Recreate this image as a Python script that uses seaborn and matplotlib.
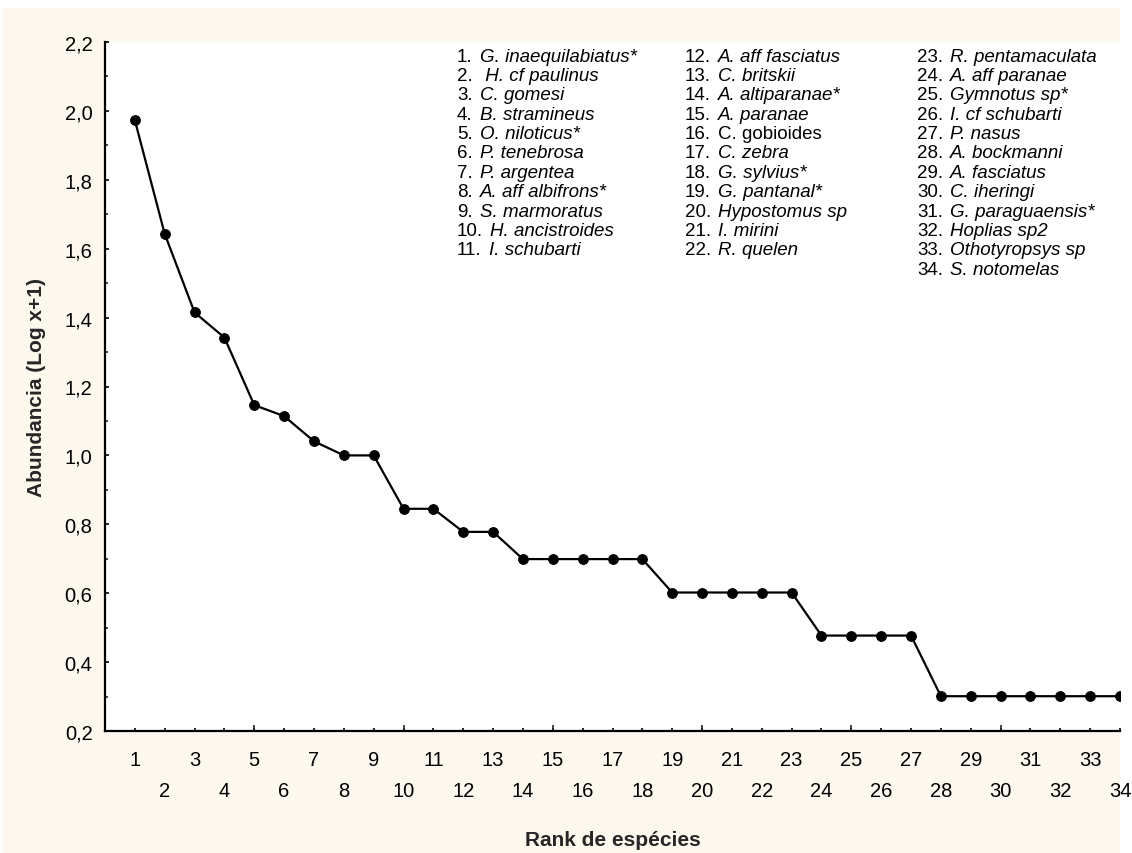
import matplotlib
matplotlib.use("Agg")
import matplotlib.pyplot as plt
from matplotlib.patches import Rectangle
from matplotlib.ticker import FuncFormatter, MultipleLocator, FixedLocator
import seaborn as sns
import pandas as pd

# ---- data ----
rank = list(range(1, 35))
abundance = [1.973, 1.643, 1.415, 1.342, 1.146, 1.114, 1.041, 1.000, 1.000,
             0.845, 0.845, 0.778, 0.778, 0.699, 0.699, 0.699, 0.699, 0.699,
             0.602, 0.602, 0.602, 0.602, 0.602, 0.477, 0.477, 0.477, 0.477,
             0.301, 0.301, 0.301, 0.301, 0.301, 0.301, 0.301]
species = ["G. inaequilabiatus*", " H. cf paulinus", "C. gomesi", "B. stramineus",
           "O. niloticus*", "P. tenebrosa", "P. argentea", "A. aff albifrons*",
           "S. marmoratus", "H. ancistroides", "I. schubarti",
           "A. aff fasciatus", "C. britskii", "A. altiparanae*", "A. paranae",
           "C. gobioides", "C. zebra", "G. sylvius*", "G. pantanal*",
           "Hypostomus sp", "I. mirini", "R. quelen",
           "R. pentamaculata", "A. aff paranae", "Gymnotus sp*", "I. cf schubarti",
           "P. nasus", "A. bockmanni", "A. fasciatus", "C. iheringi",
           "G. paraguaensis*", "Hoplias sp2", "Othotyropsys sp", "S. notomelas"]
upright_names = {16}
column_sizes = [11, 11, 12]

df = pd.DataFrame({"rank": rank, "abundance": abundance})

sns.set_style("white")
plt.rcParams["font.family"] = ["Liberation Sans", "DejaVu Sans"]

W, H = 1132, 854
fig = plt.figure(figsize=(W / 100, H / 100), dpi=100)
fig.patch.set_facecolor("white")
fig.patches.append(Rectangle((3 / W, 0), (1120 - 3) / W, 1 - 9 / H,
                             transform=fig.transFigure, facecolor="#fdf8ee",
                             edgecolor="none", zorder=-10))

ax = fig.add_axes([105 / W, 1 - 732 / H, (1120 - 105) / W, (732 - 43) / H])
ax.set_facecolor("white")

sns.lineplot(data=df, x="rank", y="abundance", marker="o", color="black",
             linewidth=1.6, markersize=7, markeredgecolor="black", ax=ax)

ax.set_xlim(0, 34)
ax.set_ylim(0.2, 2.2)

for s in ["top", "right"]:
    ax.spines[s].set_visible(False)
for s in ["left", "bottom"]:
    ax.spines[s].set_color("black")
    ax.spines[s].set_linewidth(1.6)

# y ticks
ax.yaxis.set_major_locator(MultipleLocator(0.2))
ax.yaxis.set_minor_locator(MultipleLocator(0.1))
ax.yaxis.set_major_formatter(FuncFormatter(lambda v, p: f"{v:.1f}".replace(".", ",")))
ax.tick_params(axis="y", which="major", direction="in", length=3, width=1.2,
               labelsize=14.5, pad=9, colors="black", left=True)
ax.tick_params(axis="y", which="minor", direction="in", length=2, width=1.2, left=True)

# x ticks: labels at every rank, alternating rows
ax.set_xticks(rank)
ax.set_xticklabels([str(r) if r % 2 else "\n" + str(r) for r in rank])
for lbl in ax.get_xticklabels():
    lbl.set_linespacing(1.8)
ax.xaxis.set_minor_locator(FixedLocator(list(range(0, 35, 5))))
ax.xaxis.remove_overlapping_locs = False
ax.tick_params(axis="x", which="major", direction="in", length=2.5, width=1.2,
               labelsize=14.5, pad=14, colors="black", bottom=True)
ax.tick_params(axis="x", which="minor", direction="in", length=4.5, width=1.2, bottom=True)

ax.set_xlabel("Rank de espécies", fontsize=15, fontweight="bold")
ax.set_ylabel("Abundancia (Log x+1)", fontsize=15, fontweight="bold")
ax.xaxis.set_label_coords(0.5, -0.144)
ax.yaxis.set_label_coords(-0.058, 0.5)

# species list
col_x = [(457 - 105) / 1015, (685 - 105) / 1015, (917 - 105) / 1015]
row0 = 1 - (57 - 43) / 689
row_step = 19.4 / 689
idx = 0
for c, n in enumerate(column_sizes):
    for r in range(n):
        num = idx + 1
        y = row0 - r * row_step
        t = ax.text(col_x[c], y, f"{num}.", transform=ax.transAxes, fontsize=13.5,
                    va="center", ha="left", color="black")
        style = "normal" if num in upright_names else "italic"
        ax.annotate(species[idx], xy=(1, 0), xycoords=t, xytext=(5, 0),
                    textcoords="offset points", fontsize=13.5, style=style,
                    va="bottom", ha="left", color="black")
        idx += 1

fig.savefig("out.png", dpi=100, facecolor=fig.get_facecolor())
